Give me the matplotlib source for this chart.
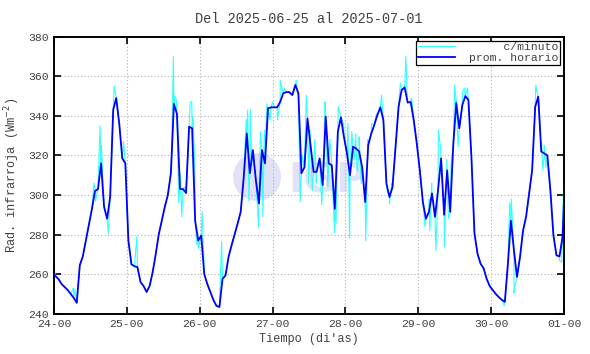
import matplotlib
matplotlib.use("Agg")
import matplotlib.pyplot as plt
from matplotlib.patches import Ellipse
import numpy as np

# ---- data ----
title = "Del 2025-06-25 al 2025-07-01"
xtick_labels = ["24-00", "25-00", "26-00", "27-00", "28-00", "29-00", "30-00", "01-00"]
yticks = [240, 260, 280, 300, 320, 340, 360, 380]

# hourly means, first value is for hour -1 (previous day), then hours 0..168
hourly = [261,
    259, 257.5, 255, 253.5, 252, 250, 248, 245.5, 264.5, 269, 277, 285, 293, 302, 303, 316,
    294, 288, 299, 343, 349, 336, 318.5, 316,
    277, 265, 264, 263.5, 256, 254, 251, 254, 261, 270, 280, 287, 294, 300, 311, 346,
    341, 303, 303, 301, 334.5, 333.7, 287, 277,
    279.5, 260, 255, 251, 247, 244, 243.4, 257.6, 259.4, 268.7, 274.6, 280, 285.6, 291.5, 309, 331,
    311, 322.7, 307.5, 295.7, 322.7, 316, 343.8, 344.3,
    344.3, 344.3, 347, 351.4, 352, 352, 350.5, 355.6, 351.4, 311, 314, 338.7, 325, 311.7,
    311.7, 318.5, 305, 339.6, 316, 315, 293, 332, 339.2, 329.4,
    321, 310, 324.4, 323.5, 322, 314, 296.5, 325.2, 331, 335.4, 340.4, 344.3, 337.8, 305.8,
    299, 304, 324.4, 344.6, 353, 354.4, 346.7, 347, 337.8, 326,
    312.4, 296.5, 288, 291.5, 300.8, 289, 302.4, 318.5, 290, 312.4, 291.5, 325, 346.5, 333.7,
    345.5, 350, 348, 319, 280.5, 270.4, 265.3, 263, 257.7, 254,
    252, 250, 248.4, 247, 246, 265, 287, 272, 258.6, 268.7, 282, 289, 300.8, 312.6, 344.6, 349.7,
    322, 321, 320, 302.4, 279.7, 269.5, 269, 278.8,
    316]

# per-minute excursions (hour, value)
minute_t = [0.0, 6.4, 6.9, 13.2, 13.7, 14.5, 15.2, 15.6, 17.9, 19.8, 20.2, 22.9, 27.3,
    38.8, 39.3, 39.8, 40.3, 41.1, 41.6, 42.1, 43.2, 44.9, 45.4, 45.8, 46.4, 47.1, 47.6,
    48.8, 55.2, 63.3, 63.8, 64.2, 64.7, 65.1, 67.4, 68.0, 68.8, 69.3, 70.1, 71.2, 72.0,
    73.6, 74.5, 75.8, 79.8, 80.1, 81.1, 81.8, 83.1, 83.9, 84.3, 85.1, 85.9, 86.4, 88.2,
    89.3, 90.2, 90.9, 92.4, 92.9, 93.6, 95.4, 96.8, 97.4, 98.1, 98.9, 99.4, 99.9, 100.5,
    101.2, 102.7, 103.4, 104.6, 106.2, 107.9, 109.8, 110.5, 111.3, 114.1, 115.9, 116.3,
    117.8, 122.2, 123.6, 123.8, 124.4, 125.8, 126.6, 127.3, 128.6, 129.4, 129.9, 130.8,
    132.0, 132.5, 133.1, 134.5, 135.2, 136.2, 148.3, 150.1, 150.6, 151.5, 151.8, 158.7,
    159.1, 160.6, 161.0, 161.5, 162.0, 166.5, 167.2, 167.9]
minute_v = [263, 253, 252.5, 306, 297, 305, 335, 325, 280.5, 355, 352, 327, 279,
    320, 370, 350, 348, 296, 311, 289, 304, 347, 347, 339.6, 312.6, 275, 273,
    291.5, 276.4, 338, 343, 297, 343, 316, 284, 332, 289, 333, 346, 338, 347,
    338, 358, 354, 358, 352, 296.5, 320, 350.5, 306, 333, 302.4, 328, 306, 295,
    347, 304, 328, 281, 285.6, 344.6, 336, 336, 278, 332, 317.6, 331, 312, 329.4,
    305.8, 277, 328, 336, 341, 350.5, 302, 295.7, 306, 356.5, 370, 352,
    349, 284, 298, 282, 306, 272, 332.8, 324.4, 273.8, 318, 288, 315,
    355.6, 348, 324.4, 352, 354, 354, 244, 296, 298, 250.5, 254, 355.6,
    352, 326.5, 312.6, 325, 314, 267, 266, 310]

# ---- derived ----
hourly_t = np.arange(len(hourly)) - 1 + 0.5
hourly_v = np.array(hourly, dtype=float)
ct = np.concatenate([hourly_t, np.array(minute_t)])
cv = np.concatenate([hourly_v, np.array(minute_v)])
order = np.argsort(ct, kind="stable")
ct, cv = ct[order], cv[order]

plt.rcParams['font.family'] = ['Liberation Mono', 'DejaVu Sans Mono']
txt_col = '#404040'
wm_col = '#e2e2f6'

fig = plt.figure(figsize=(5.9, 3.54), dpi=100)
ax = fig.add_axes([0.0915, 0.1138, 0.8645, 0.7825])
ax.patch.set_alpha(0)

# watermark (logo circle + letters), drawn behind the axes content
fig.patches.append(Ellipse((0.4356, 0.50), 0.0814, 0.1356, transform=fig.transFigure,
                           facecolor=wm_col, edgecolor='none', zorder=-2))
fig.text(0.488, 0.488, "IGP", fontsize=29, fontweight='bold',
         color=wm_col, family=['DejaVu Sans'], va='center', ha='left', zorder=-2)

ax.plot(ct, cv, color='#33ffff', lw=0.8, zorder=2, label='     c/minuto')
ax.plot(hourly_t, hourly_v, color='#0000ff', lw=1.3, zorder=3, label='prom. horario')

ax.set_xlim(0, 168)
ax.set_ylim(240, 380)
ax.set_xticks(np.arange(0, 169, 24))
ax.set_xticklabels(xtick_labels)
ax.set_yticks(yticks)
ax.grid(True, color='#b0b0b0', linestyle=(0, (1, 2)), lw=0.8)
ax.set_axisbelow(True)
ax.tick_params(direction='in', length=5, width=1.2, top=True, right=True,
               labelsize=8.2, colors='black', labelcolor=txt_col, pad=4)
for s in ax.spines.values():
    s.set_linewidth(1.4)
    s.set_color('black')

ax.set_title(title, fontsize=9.8, color=txt_col, pad=10)
ax.set_xlabel("Tiempo (di'as)", fontsize=8.6, color=txt_col, labelpad=3)
ax.set_ylabel("Rad. infrarroja (Wm$^{-2}$)", fontsize=8.6, color=txt_col, labelpad=4)

leg = ax.legend(loc='upper right', fontsize=8.2, frameon=True, fancybox=False,
                edgecolor='black', framealpha=1, handlelength=3.3, borderpad=0.15,
                labelspacing=0.05, handletextpad=1.2, borderaxespad=0.35)
leg.get_frame().set_linewidth(0.9)
for t in leg.get_texts():
    t.set_color(txt_col)

fig.savefig("out.png", dpi=100)
